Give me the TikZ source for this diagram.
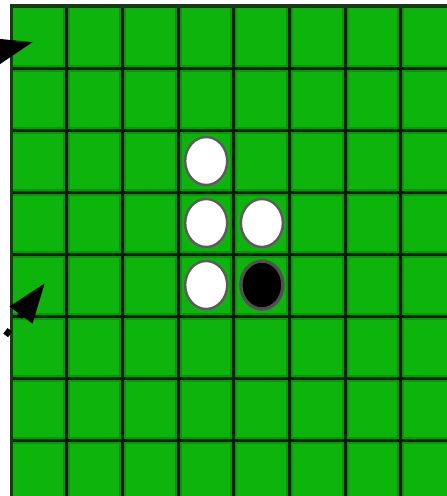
\documentclass[tikz,border=0pt]{standalone}
\usepackage{tikz}
\usetikzlibrary{arrows.meta, shapes.geometric}
\definecolor{boardgreen}{RGB}{12,180,12}
\definecolor{edgegreen}{RGB}{8,150,8}
\definecolor{rimdark}{RGB}{24,56,24}
\definecolor{discrim}{RGB}{95,88,98}
\definecolor{blackrim}{RGB}{80,80,80}

\begin{document}
\begin{tikzpicture}[x=1pt, y=-1pt,
			gridshade/.style={line width=7pt, draw=edgegreen},
			gridline/.style={line width=3pt, draw=black!92},
			whitedisc/.style={ellipse, draw=discrim, line width=2.4pt, fill=white, minimum width=42pt, minimum height=48pt, inner sep=0pt},
			blackdisc/.style={ellipse, draw=blackrim, line width=3.4pt, fill=black, minimum width=42pt, minimum height=48pt, inner sep=0pt},
			pointer/.style={-{Triangle[length=40pt, width=27pt]}, line width=5pt, draw=black}
		]
		\useasboundingbox (0,0) rectangle (447,496);
		\clip (0,0) rectangle (447,496);
		% board
		\fill[boardgreen] (11.3,6) rectangle (470,520);
		\foreach \i in {1,...,7} {
			\draw[gridshade] ({11.3+55.67*\i},6) -- ({11.3+55.67*\i},520);
			\draw[gridshade] (11.3,{6+62*\i}) -- (470,{6+62*\i});
		}
		\foreach \i in {1,...,7} {
			\draw[gridline] ({11.3+55.67*\i},6) -- ({11.3+55.67*\i},520);
			\draw[gridline] (11.3,{6+62*\i}) -- (470,{6+62*\i});
		}
		\draw[rimdark, line width=3.5pt] (11.3,520) -- (11.3,6) -- (470,6);
		
		% discs
		\node[whitedisc] (d1) at (206.2,161) {};
		\node[whitedisc] (d2) at (206.2,223) {};
		\node[whitedisc] (d3) at (261.9,223) {};
		\node[whitedisc] (d4) at (206.2,285) {};
		\node[blackdisc] (d5) at (261.9,285) {};
		
		% pointers
		\coordinate (tipA) at (33,42);
		\coordinate (tailA) at (-30,58);
		\coordinate (tipB) at (45,283);
		\coordinate (tailB) at (-21.9,372.2);
		\draw[pointer] (tailA) -- (tipA);
		\draw[pointer, line width=6pt, dash pattern=on 7pt off 16pt] (tailB) -- (tipB);
		\end{tikzpicture}
\end{document}
